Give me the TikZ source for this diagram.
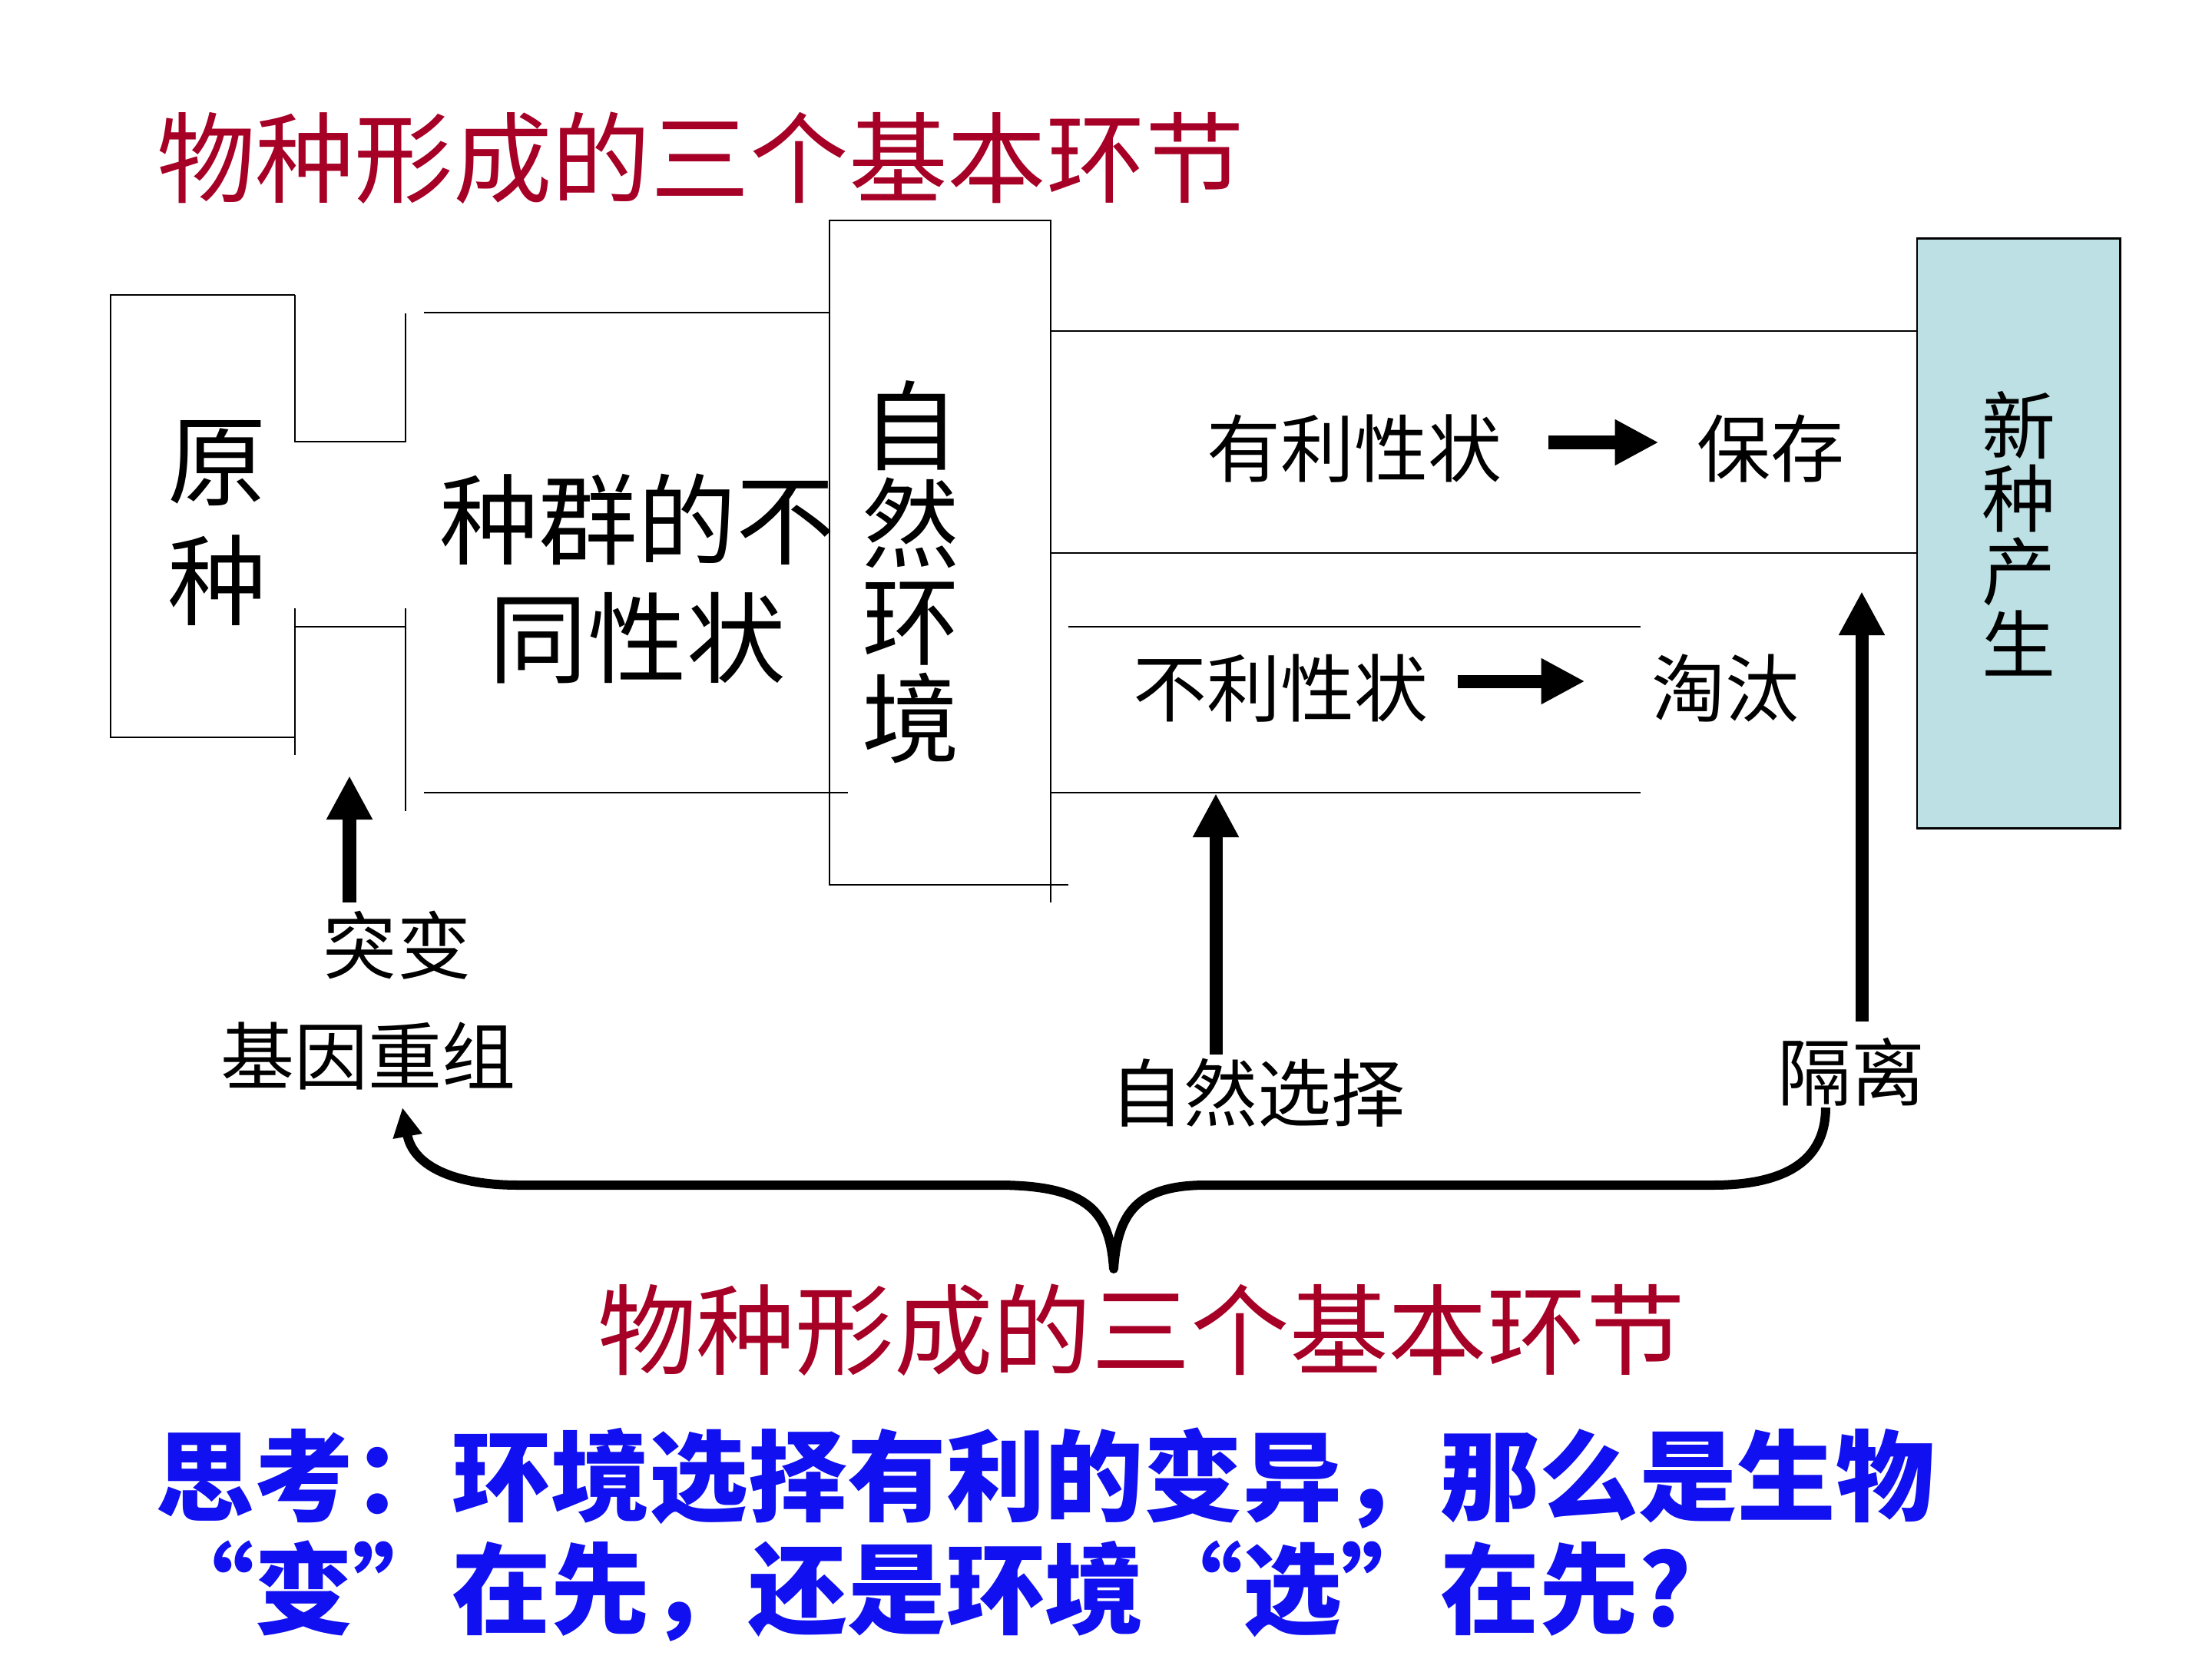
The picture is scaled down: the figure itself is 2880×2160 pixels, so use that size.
\documentclass[tikz,border=0pt]{standalone}
\usepackage{fontspec}
\setmainfont{Noto Sans CJK SC}
\usepackage{xcolor}
\usepackage{tikz}
\usetikzlibrary{arrows.meta, positioning}

\definecolor{titlered}{RGB}{166,0,38}
\definecolor{thinkblue}{RGB}{16,16,240}
\definecolor{newcyan}{RGB}{188,224,227}

\newcommand{\bigsize}{\fontsize{36.6}{44}\selectfont}
\newcommand{\smallsize}{\fontsize{27.3}{33}\selectfont}

\begin{document}
\begin{tikzpicture}[x=0.01cm, y=-0.01cm, line width=0.8pt,
        every node/.style={inner sep=0pt},
        fatarrow/.style={line width=0.17cm, -{Triangle[length=0.57cm, width=0.56cm]}}]
    \useasboundingbox (0,0) rectangle (2880,2160);

    \node (title) at (912,206) [text=titlered, font=\bigsize] {物种形成的三个基本环节};

    \draw (384,384) -- (144,384) -- (144,960) -- (384,960);
    \draw (384,384) -- (384,575) -- (528,575) -- (528,408);
    \draw (384,792) -- (384,983);
    \draw (384,816) -- (528,816);
    \draw (528,792) -- (528,1056);
    \node (orig) at (283,681) [font=\fontsize{36.6}{44.1}\selectfont, align=center] {原\\种};

    \draw (552,407) -- (1080,407);
    \draw (552,1032) -- (1104,1032);
    \node (traits) at (830,753) [font=\fontsize{36.6}{43.8}\selectfont, align=center] {种群的不\\同性状};

    \draw (1080,287) rectangle (1368,1152);
    \draw (1368,1152) -- (1391,1152);
    \draw (1368,1152) -- (1368,1175);
    \node (env) at (1186,745) [font=\fontsize{36.1}{36.1}\selectfont, align=center] {自\\然\\环\\境};

    \draw (1368,431) -- (2496,431);
    \draw (1368,720) -- (2496,720);
    \draw (1391,816) -- (2136,816);
    \draw (1368,1032) -- (2136,1032);

    \node (favor) at (1763,584) [font=\smallsize] {有利性状};
    \node (keep) [right=2.52cm of favor, font=\smallsize] {保存};
    \node (unfav) at (1667,896) [font=\smallsize] {不利性状};
    \node (elim) [right=2.88cm of unfav, font=\smallsize] {淘汰};
    \draw[fatarrow, shorten <=0.6cm, shorten >=0.49cm] ([yshift=0.08cm]favor.east) -- ([yshift=0.08cm]keep.west);
    \draw[fatarrow, shorten <=0.38cm, shorten >=0.85cm] ([yshift=0.09cm]unfav.east) -- ([yshift=0.09cm]elim.west);

    \node (newsp) at (2628,694.5) [draw, fill=newcyan, minimum width=2.64cm, minimum height=7.67cm,
        font=\fontsize{27.3}{27}\selectfont, align=center] {新\\种\\产\\生};

    \node (mut) at (517,1231) [font=\smallsize] {突变};
    \node (gene) at (479.5,1375) [font=\smallsize] {基因重组};
    \node (sel) at (1637.5,1423) [font=\smallsize] {自然选择};
    \node (iso) at (2410,1396) [font=\smallsize] {隔离};

    \coordinate (mutTip) at (455,1010);
    \coordinate (selTip) at (1583,1033);
    \coordinate (isoTip) at (2424,770);
    \draw[fatarrow, shorten <=0.1cm] (mutTip |- mut.north) -- (mutTip);
    \draw[fatarrow, shorten <=0.04cm] (selTip |- sel.north) -- (selTip);
    \draw[fatarrow, shorten <=0.2cm] (isoTip |- iso.north) -- (isoTip);

    \coordinate (braceL) at (524,1442);
    \coordinate (braceR) at (2377,1442);
    \draw[line width=0.12cm, line join=round, {Triangle[length=0.38cm, width=0.36cm]}-]
        (braceL) .. controls (537,1515) and (585,1543) .. (675,1543) -- (1299,1543)
        .. controls (1420,1543) and (1445,1580) .. (1450,1652)
        .. controls (1455,1580) and (1480,1543) .. (1570,1543) -- (2230,1543)
        .. controls (2340,1543) and (2377,1500) .. (braceR);

    \node (title2) at (1486,1732) [text=titlered, font=\bigsize] {物种形成的三个基本环节};

    \node (think) at (201,1998) [anchor=west, text=thinkblue, align=left,
        font=\bfseries\fontsize{36.6}{41.8}\selectfont] {思考：环境选择有利的变异，那么是生物\\“变”在先，还是环境“选”在先?};
\end{tikzpicture}
\end{document}
